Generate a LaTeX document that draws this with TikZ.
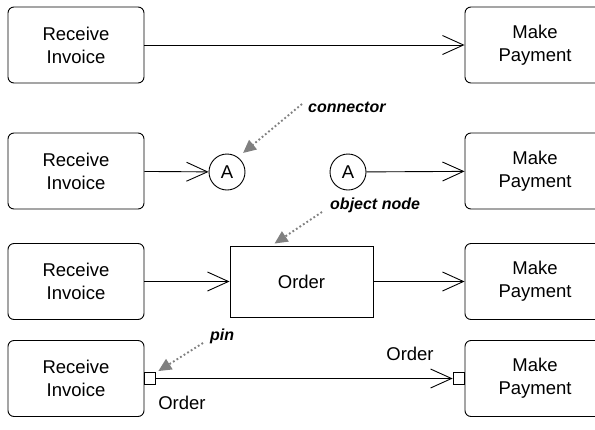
\documentclass[tikz,border=0pt]{standalone}
\usepackage{fontspec}
\setmainfont{Liberation Sans}
\usepackage{tikz}
\usetikzlibrary{arrows.meta,positioning}

\begin{document}
\begin{tikzpicture}[x=1pt, y=-1pt,
  act/.style={draw, line width=0.9pt, rounded corners=6pt, align=center,
    inner sep=0pt, minimum width=136pt, minimum height=76pt, font=\fontsize{18.5}{23}\selectfont},
  conn/.style={draw, circle, line width=0.9pt, inner sep=0pt, minimum size=36pt,
    font=\fontsize{18.5}{23}\selectfont},
  obj/.style={draw, line width=0.9pt, inner sep=0pt, minimum width=143pt, minimum height=71pt,
    font=\fontsize{18.5}{23}\selectfont},
  pinbox/.style={draw, fill=white, line width=0.9pt, inner sep=0pt, minimum width=11pt, minimum height=12pt},
  objlbl/.style={inner sep=0pt, font=\fontsize{18.5}{23}\selectfont},
  note/.style={inner sep=0pt, font=\fontsize{16}{19}\selectfont\bfseries\itshape},
  flow/.style={draw, line width=0.9pt, -{Straight Barb[length=21pt, width=19pt, line width=0.9pt]}},
  callout/.style={draw=gray, line width=1.9pt, dash pattern=on 1.8pt off 2.4pt,
    -{Triangle[length=13pt, width=12pt]}}]
  \clip (0,0) rectangle (595,429);
  % activities, one row each
  \foreach \r/\y in {1/45,2/171,3/281.5,4/378.5} {
    \node[act] (ri\r) at (76,\y) {Receive\\Invoice};
    \node[act, minimum width=140pt] (mp\r) at (535,\y) {Make\\Payment};
  }
  \node[conn] (A1) at (227,172) {A};
  \node[conn] (A2) at (348,172) {A};
  \node[obj] (ord) at (301.5,281.5) {Order};
  \node[pinbox, anchor=west] (pinout) at (ri4.east) {};
  \node[pinbox, anchor=east] (pinin) at (mp4.west) {};
  \node[objlbl] (ordout) at (182,403) {Order};
  \node[objlbl] (ordin) at (410,354) {Order};
  % notes
  \node[note, anchor=west] (lblconn) at (308,107) {connector};
  \node[note, anchor=west] (lblobj) at (330,205) {object node};
  \node[note, anchor=west] (lblpin) at (210,336) {pin};
  % flows
  \draw[flow] (ri1) -- (mp1);
  \draw[flow] (ri2) -- (A1);
  \draw[flow] (A2) -- (mp2);
  \draw[flow] (ri3) -- (ord);
  \draw[flow] (ord) -- (mp3);
  \draw[flow] (pinout) -- (pinin);
  \draw[callout] ([shift={(-6,-3)}]lblconn.west) -- ([shift={(3,-6)}]A1.45);
  \draw[callout] ([shift={(-8,7)}]lblobj.west) -- ([shift={(45,-2)}]ord.north west);
  \draw[callout] ([shift={(-7,7)}]lblpin.west) -- ([shift={(2,-1)}]pinout.north east);
\end{tikzpicture}
\end{document}
